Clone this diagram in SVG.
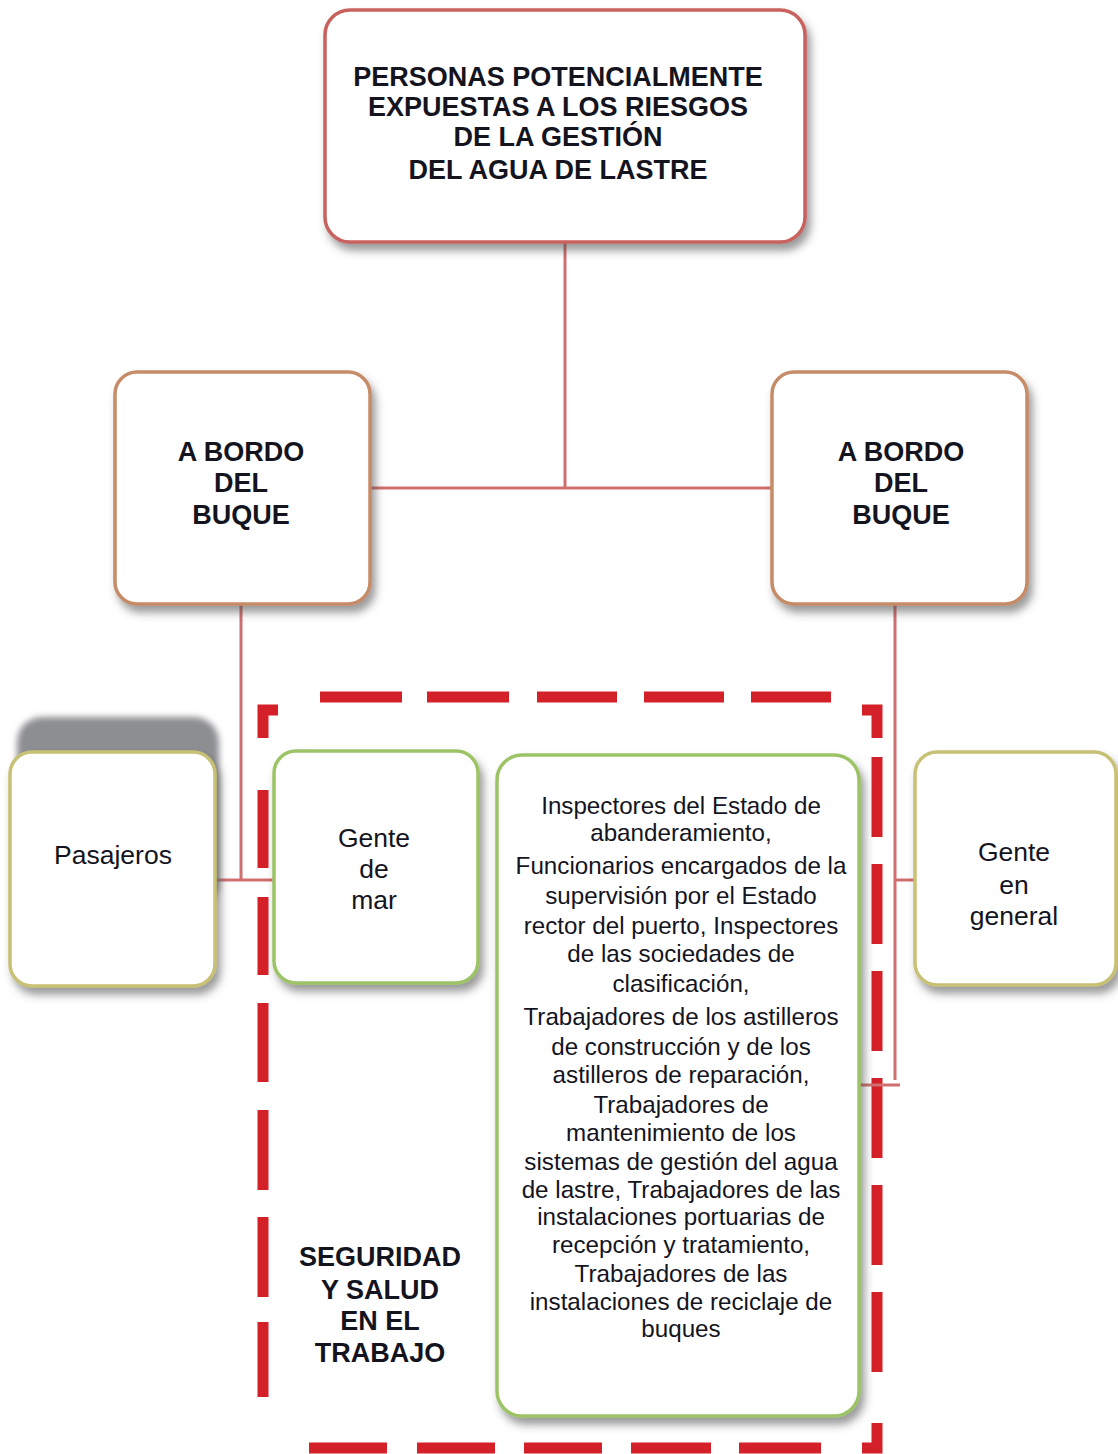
<svg xmlns="http://www.w3.org/2000/svg" width="1118" height="1454" viewBox="0 0 1118 1454">
  <defs>
    <filter id="shadow" x="-10%" y="-10%" width="125%" height="125%">
      <feDropShadow dx="4" dy="7" stdDeviation="4" flood-color="#4a4a4a" flood-opacity="0.55"/>
    </filter>
    <filter id="soft" x="-10%" y="-10%" width="120%" height="120%">
      <feGaussianBlur stdDeviation="3"/>
    </filter>
    <style>
      .box { fill: #ffffff; stroke-width: 3.5; filter: url(#shadow); }
      .red { stroke: #c9625f; }
      .tan { stroke: #c68c68; }
      .olive { stroke: #c7c074; }
      .green { stroke: #9cc466; }
      .link { fill: none; stroke: #d06f6f; stroke-width: 3; }
      .dash { fill: none; stroke: #d42029; stroke-width: 11; stroke-linecap: butt; }
      .t { font-family: "Liberation Sans", Arial, sans-serif; fill: #14141e; text-anchor: middle; }
      .b { font-weight: bold; font-size: 27px; }
      .r { font-size: 26.5px; }
      .s { font-size: 24.2px; }
    </style>
  </defs>

  <!-- dashed frame around occupational safety and health group -->
  <g id="frame">
    <path class="dash" d="M320 697H402M427 697H509M537 697H617M644 697H724M751 697H831"/>
    <path class="dash" d="M263 738V710H278M877 738V710H862"/>
    <path class="dash" d="M263 790V868M263 897V975M263 1003V1082M263 1110V1190M263 1217V1297M263 1322V1397"/>
    <path class="dash" d="M877 757V837M877 864V944M877 971V1051M877 1078V1158M877 1185V1265M877 1292V1372"/>
    <path class="dash" d="M877 1423V1448H862"/>
    <path class="dash" d="M309 1448H387M417 1448H495M524 1448H602M631 1448H711M739 1448H821"/>
  </g>

  <!-- connectors -->
  <g id="connectors">
    <path class="link" d="M565 243V488M370 488H772"/>
    <path class="link" d="M241 605V880M215 880H275"/>
    <path class="link" d="M895 605V1080M895 880H915M860 1085H900"/>
  </g>

  <!-- root -->
  <g id="node-root">
    <rect class="box red" x="325" y="10" width="480" height="232" rx="25"/>
    <text class="t b" x="558" y="86">PERSONAS POTENCIALMENTE</text>
    <text class="t b" x="558" y="116">EXPUESTAS A LOS RIESGOS</text>
    <text class="t b" x="558" y="146">DE LA GESTIÓN</text>
    <text class="t b" x="558" y="179">DEL AGUA DE LASTRE</text>
  </g>

  <g id="node-bordo-left">
    <rect class="box tan" x="115" y="372" width="255" height="232" rx="22"/>
    <text class="t b" x="241" y="461">A BORDO</text>
    <text class="t b" x="241" y="492">DEL</text>
    <text class="t b" x="241" y="524">BUQUE</text>
  </g>

  <g id="node-bordo-right">
    <rect class="box tan" x="772" y="372" width="255" height="232" rx="22"/>
    <text class="t b" x="901" y="461">A BORDO</text>
    <text class="t b" x="901" y="492">DEL</text>
    <text class="t b" x="901" y="524">BUQUE</text>
  </g>

  <g id="node-pasajeros">
    <rect x="17" y="717" width="202" height="190" rx="25" fill="#8d8e92" filter="url(#soft)"/>
    <rect class="box olive" x="10" y="752" width="205" height="234" rx="22"/>
    <text class="t r" x="113" y="864">Pasajeros</text>
  </g>

  <g id="node-gente-mar">
    <rect class="box green" x="274" y="751" width="204" height="232" rx="22"/>
    <text class="t r" x="374" y="847">Gente</text>
    <text class="t r" x="374" y="878">de</text>
    <text class="t r" x="374" y="909">mar</text>
  </g>

  <g id="node-trabajadores">
    <rect class="box green" x="497" y="755" width="362" height="661" rx="25"/>
    <text class="t s" x="681" y="814">Inspectores del Estado de</text>
    <text class="t s" x="681" y="841">abanderamiento,</text>
    <text class="t s" x="681" y="874">Funcionarios encargados de la</text>
    <text class="t s" x="681" y="904">supervisión por el Estado</text>
    <text class="t s" x="681" y="934">rector del puerto, Inspectores</text>
    <text class="t s" x="681" y="962">de las sociedades de</text>
    <text class="t s" x="681" y="992">clasificación,</text>
    <text class="t s" x="681" y="1025">Trabajadores de los astilleros</text>
    <text class="t s" x="681" y="1055">de construcción y de los</text>
    <text class="t s" x="681" y="1083">astilleros de reparación,</text>
    <text class="t s" x="681" y="1113">Trabajadores de</text>
    <text class="t s" x="681" y="1141">mantenimiento de los</text>
    <text class="t s" x="681" y="1170">sistemas de gestión del agua</text>
    <text class="t s" x="681" y="1198">de lastre, Trabajadores de las</text>
    <text class="t s" x="681" y="1225">instalaciones portuarias de</text>
    <text class="t s" x="681" y="1253">recepción y tratamiento,</text>
    <text class="t s" x="681" y="1282">Trabajadores de las</text>
    <text class="t s" x="681" y="1310">instalaciones de reciclaje de</text>
    <text class="t s" x="681" y="1337">buques</text>
  </g>

  <g id="node-gente-general">
    <rect class="box olive" x="915" y="752" width="201" height="233" rx="22"/>
    <text class="t r" x="1014" y="861">Gente</text>
    <text class="t r" x="1014" y="894">en</text>
    <text class="t r" x="1014" y="925">general</text>
  </g>

  <g id="label-sst">
    <text class="t b" x="380" y="1266">SEGURIDAD</text>
    <text class="t b" x="380" y="1299">Y SALUD</text>
    <text class="t b" x="380" y="1330">EN EL</text>
    <text class="t b" x="380" y="1362">TRABAJO</text>
  </g>
</svg>
